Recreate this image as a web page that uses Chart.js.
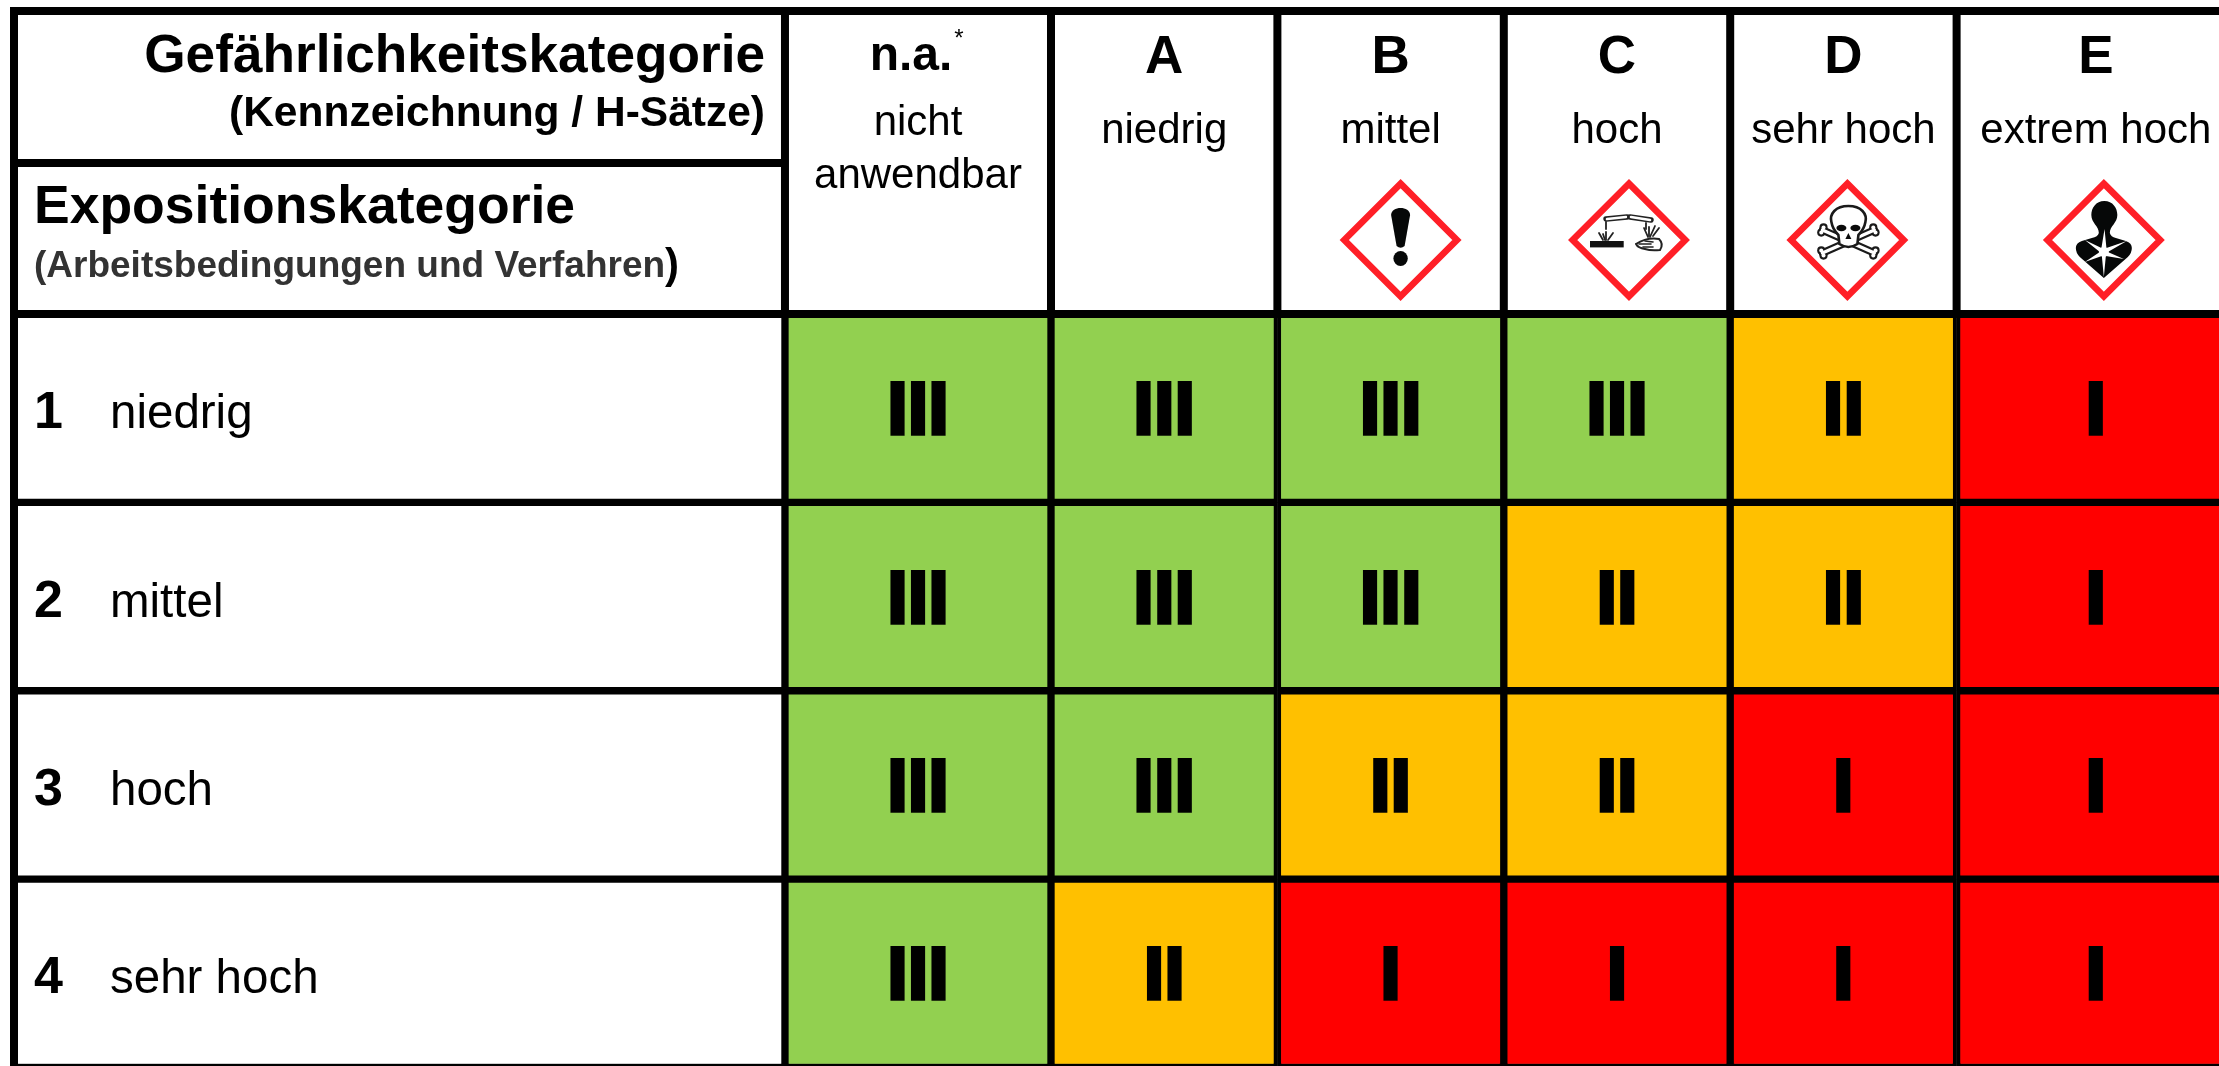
<!DOCTYPE html>
<html lang="de">
<head>
<meta charset="utf-8">
<title>Gefährlichkeitskategorie / Expositionskategorie</title>
<script src="https://cdn.jsdelivr.net/npm/chart.js@4"></script>
<style>
  html, body { margin: 0; padding: 0; background: #fff; overflow: hidden; }
  canvas { display: block; }
</style>
</head>
<body>
<canvas id="matrixChart" width="2219" height="1072"></canvas>
<script>
// exposure rows
const rowNumbers = ['1', '2', '3', '4'];
const rowNames = ['niedrig', 'mittel', 'hoch', 'sehr hoch'];
// hazard columns
const hazardCodes = ['n.a.', 'A', 'B', 'C', 'D', 'E'];
const hazardNames = [['nicht', 'anwendbar'], ['niedrig'], ['mittel'], ['hoch'], ['sehr hoch'], ['extrem hoch']];
const hazardPictograms = [null, null, 'exclamation', 'corrosion', 'skull', 'health'];
// protection level per row, one value per hazard column
const levelsRow1 = [3, 3, 3, 3, 2, 1];
const levelsRow2 = [3, 3, 3, 2, 2, 1];
const levelsRow3 = [3, 3, 2, 2, 1, 1];
const levelsRow4 = [3, 2, 1, 1, 1, 1];
const levelRows = [levelsRow1, levelsRow2, levelsRow3, levelsRow4];
const levelLabels = { 1: 'I', 2: 'II', 3: 'III' };
const levelColors = { 1: '#FF0000', 2: '#FFC000', 3: '#92D050' };

// column borders on the x scale, A to E are one unit wide
const xMin = -4.598;
const xMax = 5.159;
const columnEdges = [-1.175, 0, 1, 2, 3, 4, 5.23];
const pictogramShift = [0, 0, 10, 12, 4, 8];

const FONT = '"Liberation Sans", Arial, sans-serif';
const LINE = 8;

const columnDatasets = hazardCodes.map((code, c) => ({
  label: code,
  data: levelRows.map(row => [columnEdges[c], columnEdges[c + 1]]),
  backgroundColor: levelRows.map(row => levelColors[row[c]]),
  borderColor: '#000',
  borderWidth: LINE / 2,
  borderSkipped: false
}));

const labelDataset = {
  label: 'Expositionskategorie',
  data: rowNames.map(() => [xMin, columnEdges[0]]),
  backgroundColor: '#fff',
  borderColor: '#000',
  borderWidth: LINE / 2,
  borderSkipped: false
};

function text(ctx, str, x, y, font, align, color) {
  ctx.font = font;
  ctx.textAlign = align || 'left';
  ctx.textBaseline = 'alphabetic';
  ctx.fillStyle = color || '#000';
  ctx.fillText(str, x, y);
}

function drawDiamond(ctx) {
  const h = 56.3;
  ctx.beginPath();
  ctx.moveTo(0, -h);
  ctx.lineTo(h, 0);
  ctx.lineTo(0, h);
  ctx.lineTo(-h, 0);
  ctx.closePath();
  ctx.fillStyle = '#fff';
  ctx.fill();
  ctx.lineWidth = 6.6;
  ctx.lineJoin = 'miter';
  ctx.strokeStyle = '#FF1F27';
  ctx.stroke();
}

function drawExclamation(ctx) {
  ctx.fillStyle = '#060808';
  ctx.beginPath();
  ctx.moveTo(-9.5, -25);
  ctx.bezierCurveTo(-9.5, -34.5, 9.5, -34.5, 9.5, -25);
  ctx.lineTo(4, 6);
  ctx.quadraticCurveTo(0, 9.5, -4, 6);
  ctx.closePath();
  ctx.fill();
  ctx.beginPath();
  ctx.ellipse(0, 18.5, 7.2, 7.6, 0, 0, Math.PI * 2);
  ctx.fill();
}

function drawCorrosion(ctx) {
  ctx.fillStyle = '#111';
  ctx.lineCap = 'round';
  // test tubes
  [[-23, -21, -2, -23], [1, -23, 22, -20]].forEach(t => {
    ctx.lineWidth = 5.4;
    ctx.strokeStyle = '#222';
    ctx.beginPath(); ctx.moveTo(t[0], t[1]); ctx.lineTo(t[2], t[3]); ctx.stroke();
    ctx.lineWidth = 2.6;
    ctx.strokeStyle = '#fff';
    ctx.beginPath(); ctx.moveTo(t[0] + 1, t[1]); ctx.lineTo(t[2] - 1, t[3]); ctx.stroke();
  });
  ctx.strokeStyle = '#222';
  ctx.lineWidth = 1.8;
  // drips and fumes
  [[-23, -18, -23, -11], [-23, -8, -23, 0], [-30, -7, -26, 0], [-16, -7, -21, 0], [-26, -6, -24, 0],
   [17, -17, 17, -11], [15, -12, 19, -3], [26, -14, 21, -3], [20, -13, 20, -4], [30, -12, 24, -4]].forEach(s => {
    ctx.beginPath(); ctx.moveTo(s[0], s[1]); ctx.lineTo(s[2], s[3]); ctx.stroke();
  });
  ctx.fillRect(-39, 1, 33.7, 6.4);
  // hand
  ctx.lineWidth = 2;
  ctx.fillStyle = '#fff';
  ctx.beginPath();
  ctx.moveTo(7, 4);
  ctx.quadraticCurveTo(18, -3, 30, -1);
  ctx.quadraticCurveTo(35, 4, 31, 10);
  ctx.quadraticCurveTo(22, 11, 16, 9);
  ctx.quadraticCurveTo(9, 8, 7, 4);
  ctx.fill();
  ctx.stroke();
  ctx.lineWidth = 1.6;
  [[10, 4, 22, 4], [14, 7, 24, 7], [16, 1, 24, 2]].forEach(s => {
    ctx.beginPath(); ctx.moveTo(s[0], s[1]); ctx.lineTo(s[2], s[3]); ctx.stroke();
  });
}

function drawBone(ctx, x1, y1, x2, y2) {
  const ends = [[x1, y1], [x2, y2]];
  const a = Math.atan2(y2 - y1, x2 - x1) + Math.PI / 2;
  const layer = (w, color) => {
    ctx.strokeStyle = color;
    ctx.fillStyle = color;
    ctx.lineWidth = w;
    ctx.lineCap = 'round';
    ctx.beginPath(); ctx.moveTo(x1, y1); ctx.lineTo(x2, y2); ctx.stroke();
    ends.forEach(e => {
      [1, -1].forEach(s => {
        ctx.beginPath();
        ctx.arc(e[0] + s * 2.8 * Math.cos(a), e[1] + s * 2.8 * Math.sin(a), w / 2 + 0.4, 0, Math.PI * 2);
        ctx.fill();
      });
    });
  };
  layer(7.4, '#1a1a1a');
  layer(3.2, '#fff');
}

function drawSkull(ctx) {
  drawBone(ctx, -25, -10, 27, 13);
  drawBone(ctx, 27, -10, -25, 13);
  ctx.beginPath();
  ctx.moveTo(1, -34);
  ctx.bezierCurveTo(14, -34, 20, -26, 18, -18);
  ctx.bezierCurveTo(17, -12, 14, -8, 11, -5);
  ctx.lineTo(10, 4);
  ctx.quadraticCurveTo(1, 10, -8, 4);
  ctx.lineTo(-9, -5);
  ctx.bezierCurveTo(-12, -8, -15, -12, -16, -18);
  ctx.bezierCurveTo(-18, -26, -12, -34, 1, -34);
  ctx.closePath();
  ctx.fillStyle = '#fff';
  ctx.fill();
  ctx.lineWidth = 2.6;
  ctx.strokeStyle = '#1a1a1a';
  ctx.stroke();
  ctx.fillStyle = '#0a0a0a';
  ctx.beginPath(); ctx.ellipse(-6, -12, 5, 3.2, 0, 0, Math.PI * 2); ctx.fill();
  ctx.beginPath(); ctx.ellipse(8, -12, 5, 3.2, 0, 0, Math.PI * 2); ctx.fill();
  ctx.beginPath(); ctx.moveTo(1, -7); ctx.lineTo(4, -1); ctx.lineTo(-2, -1); ctx.closePath(); ctx.fill();
}

function drawHealth(ctx) {
  ctx.fillStyle = '#060808';
  ctx.beginPath();
  ctx.moveTo(0.5, -39);
  ctx.bezierCurveTo(9, -39, 13.5, -32, 13.5, -25);
  ctx.bezierCurveTo(13.5, -17, 6, -14, 6, -7);
  ctx.quadraticCurveTo(7, -3, 12, -2);
  ctx.lineTo(22, 1);
  ctx.quadraticCurveTo(28, 3, 28, 8);
  ctx.quadraticCurveTo(28, 13, 24, 17);
  ctx.lineTo(0, 38);
  ctx.lineTo(-24, 17);
  ctx.quadraticCurveTo(-28, 13, -28, 8);
  ctx.quadraticCurveTo(-28, 3, -22, 1);
  ctx.lineTo(-12, -2);
  ctx.quadraticCurveTo(-6, -3, -5, -7);
  ctx.bezierCurveTo(-5, -14, -12.5, -17, -12.5, -25);
  ctx.bezierCurveTo(-12.5, -32, -8, -39, 0.5, -39);
  ctx.closePath();
  ctx.fill();
  // white burst on the chest
  ctx.fillStyle = '#fff';
  const rays = [[0.7, -11], [2.6, 8], [23, 1], [4, 12], [20, 19], [2, 16], [0, 37], [-2, 16], [-19, 22], [-4, 12], [-19, 0], [-2.4, 8]];
  ctx.beginPath();
  rays.forEach((p, i) => { if (i === 0) ctx.moveTo(p[0], p[1]); else ctx.lineTo(p[0], p[1]); });
  ctx.closePath();
  ctx.fill();
  ctx.beginPath();
  ctx.arc(0, 12, 5, 0, Math.PI * 2);
  ctx.fill();
}

const pictogramDrawers = { exclamation: drawExclamation, corrosion: drawCorrosion, skull: drawSkull, health: drawHealth };

// header table, row labels and the numerals in the cells
const matrixPlugin = {
  id: 'matrixText',
  afterDatasetsDraw(chart) {
    const ctx = chart.ctx;
    const area = chart.chartArea;
    const x = chart.scales.x;
    const y = chart.scales.y;
    const colCenter = c => (x.getPixelForValue(columnEdges[c]) + x.getPixelForValue(columnEdges[c + 1])) / 2;
    const labelEdge = x.getPixelForValue(columnEdges[0]);

    ctx.save();
    ctx.fillStyle = '#000';
    // table frame above the matrix
    ctx.fillRect(area.left, 7, LINE, area.bottom - 7);
    ctx.fillRect(area.left, 7, area.right - area.left, LINE);
    ctx.fillRect(area.left, area.top - LINE / 2, area.right - area.left, LINE);
    ctx.fillRect(area.left, 159, labelEdge - area.left, LINE);
    columnEdges.slice(0, -1).forEach(edge => {
      ctx.fillRect(x.getPixelForValue(edge) - LINE / 2, 7, LINE, area.top - 7);
    });

    text(ctx, 'Gefährlichkeitskategorie', 765, 72, 'bold 53.2px ' + FONT, 'right');
    text(ctx, '(Kennzeichnung / H-Sätze)', 765, 126, 'bold 42.5px ' + FONT, 'right');
    text(ctx, 'Expositionskategorie', 34, 223, 'bold 53.5px ' + FONT);
    const subtitle = '(Arbeitsbedingungen und Verfahren';
    text(ctx, subtitle, 34, 277, 'bold 37px ' + FONT, 'left', '#333');
    text(ctx, ')', 34 + ctx.measureText(subtitle).width, 278, 'bold 42px ' + FONT);

    hazardCodes.forEach((code, c) => {
      const cx = colCenter(c);
      if (c === 0) {
        text(ctx, code, cx - 7, 70, 'bold 48px ' + FONT, 'center');
        text(ctx, '*', cx + 41, 46, '24px ' + FONT, 'center');
        text(ctx, hazardNames[c][0], cx, 135, '42px ' + FONT, 'center');
        text(ctx, hazardNames[c][1], cx, 188, '42px ' + FONT, 'center');
      } else {
        text(ctx, code, cx, 73, 'bold 53px ' + FONT, 'center');
        text(ctx, hazardNames[c][0], cx, 143, '42px ' + FONT, 'center');
      }
      if (hazardPictograms[c]) {
        ctx.save();
        ctx.translate(cx + pictogramShift[c], 240);
        drawDiamond(ctx);
        pictogramDrawers[hazardPictograms[c]](ctx);
        ctx.restore();
      }
    });

    rowNames.forEach((name, r) => {
      const cy = y.getPixelForValue(r);
      text(ctx, rowNumbers[r], 34, cy + 20, 'bold 52px ' + FONT);
      text(ctx, name, 110, cy + 20, '47.5px ' + FONT);
      levelRows[r].forEach((level, c) => {
        ctx.font = 'bold 74px ' + FONT;
        ctx.textAlign = 'center';
        ctx.lineWidth = 3.5;
        ctx.strokeStyle = '#000';
        ctx.lineJoin = 'miter';
        ctx.strokeText(levelLabels[level], colCenter(c), cy + 26);
        text(ctx, levelLabels[level], colCenter(c), cy + 26, 'bold 74px ' + FONT, 'center');
      });
    });
    ctx.restore();
  }
};

new Chart(document.getElementById('matrixChart').getContext('2d'), {
  type: 'bar',
  data: {
    labels: rowNames,
    datasets: [labelDataset].concat(columnDatasets)
  },
  plugins: [matrixPlugin],
  options: {
    indexAxis: 'y',
    responsive: false,
    animation: false,
    events: [],
    layout: { padding: { left: 10, top: 314, right: 0, bottom: 4.5 } },
    datasets: { bar: { grouped: false, barPercentage: 1, categoryPercentage: 1 } },
    scales: {
      x: { type: 'linear', min: xMin, max: xMax, display: false },
      y: { type: 'category', display: false }
    },
    plugins: {
      legend: { display: false },
      tooltip: { enabled: false },
      title: { display: false }
    }
  }
});
</script>
</body>
</html>
